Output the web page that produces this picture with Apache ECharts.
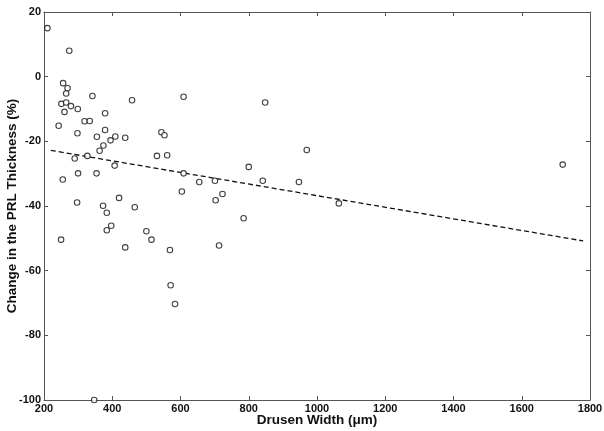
<!DOCTYPE html>
<html>
<head>
<meta charset="utf-8">
<script src="https://cdn.jsdelivr.net/npm/echarts@6/dist/echarts.min.js"></script>
<style>
  html, body { margin: 0; padding: 0; background: #fff; }
  #chart { width: 604px; height: 431px; }
</style>
</head>
<body>
<div id="chart"></div>
<script>
// drusen width (um) for each eye
const drusenWidth = [
  210, 274, 256, 269, 265, 342, 251, 265, 279, 299,
  260, 458, 609, 379, 319, 334, 243, 298, 355, 379,
  409, 438, 395, 374, 544, 553, 363, 290, 327, 531,
  561, 407, 300, 354, 609, 255, 655, 604, 297, 420,
  373, 466, 384, 384, 397, 250, 500, 515, 438, 569,
  701, 703, 723, 785, 800, 841, 970, 947, 1064, 713,
  848, 1720, 571, 584, 347
];
// change in PRL thickness (%)
const prlChange = [
  15, 8, -2, -3.6, -5.2, -6, -8.4, -8, -9.1, -10,
  -10.9, -7.3, -6.2, -11.3, -13.8, -13.7, -15.2, -17.5, -18.6, -16.5,
  -18.5, -18.9, -19.7, -21.3, -17.2, -18.1, -22.9, -25.3, -24.5, -24.5,
  -24.3, -27.5, -29.9, -29.9, -29.9, -31.8, -32.6, -35.5, -38.9, -37.5,
  -39.9, -40.4, -42.1, -47.5, -46.1, -50.4, -47.8, -50.4, -52.8, -53.6,
  -32.2, -38.2, -36.3, -43.8, -27.9, -32.2, -22.7, -32.6, -39.2, -52.2,
  -8, -27.2, -64.5, -70.3, -100
];
// fitted regression line end points
const fitX = [220, 1780];
const fitY = [-22.8, -50.8];

const xTicks = { min: 200, max: 1800, interval: 200 };
const yTicks = { min: -100, max: 20, interval: 20 };

const points = drusenWidth.map((x, i) => [x, prlChange[i]]);
const fitLine = fitX.map((x, i) => [x, fitY[i]]);

const myChart = echarts.init(document.getElementById('chart'));

const axisCol = '#555';
const fontFam = 'Liberation Sans, Arial, sans-serif';
const labelStyle = {
  color: '#111',
  fontFamily: fontFam,
  fontWeight: 'bold',
  fontSize: 11,
  formatter: (v) => String(v),
};
const nameStyle = {
  color: '#111',
  fontFamily: fontFam,
  fontWeight: 'bold',
  fontSize: 13.5,
};
const lineStyle = { show: true, onZero: false, lineStyle: { color: axisCol, width: 1 } };
const tickStyle = { show: true, inside: true, length: 4, lineStyle: { color: axisCol } };

const option = {
  animation: false,
  backgroundColor: '#fff',
  grid: { left: 44, right: 14, top: 12, bottom: 31, containLabel: false, outerBoundsMode: 'none' },
  xAxis: [
    {
      type: 'value',
      position: 'bottom',
      min: xTicks.min, max: xTicks.max, interval: xTicks.interval,
      name: 'Drusen Width (\u03bcm)',
      nameLocation: 'middle',
      nameGap: 13,
      nameMoveOverlap: false,
      nameTextStyle: nameStyle,
      axisLine: lineStyle,
      axisTick: tickStyle,
      axisLabel: Object.assign({ margin: 3 }, labelStyle),
      splitLine: { show: false },
    },
    {
      type: 'value',
      position: 'top',
      min: xTicks.min, max: xTicks.max, interval: xTicks.interval,
      axisLine: lineStyle,
      axisTick: tickStyle,
      axisLabel: { show: false },
      splitLine: { show: false },
    },
  ],
  yAxis: [
    {
      type: 'value',
      position: 'left',
      min: yTicks.min, max: yTicks.max, interval: yTicks.interval,
      name: 'Change in the PRL Thickness (%)',
      nameLocation: 'middle',
      nameGap: 25,
      nameMoveOverlap: false,
      nameTextStyle: nameStyle,
      axisLine: lineStyle,
      axisTick: tickStyle,
      axisLabel: Object.assign({ margin: 3 }, labelStyle),
      splitLine: { show: false },
    },
    {
      type: 'value',
      position: 'right',
      min: yTicks.min, max: yTicks.max, interval: yTicks.interval,
      axisLine: lineStyle,
      axisTick: tickStyle,
      axisLabel: { show: false },
      splitLine: { show: false },
    },
  ],
  series: [
    {
      type: 'line',
      data: fitLine,
      showSymbol: false,
      lineStyle: { color: '#111', width: 1.3, type: [5, 3] },
      z: 1,
    },
    {
      type: 'scatter',
      data: points,
      symbol: 'circle',
      symbolSize: 5.5,
      itemStyle: { color: '#fff', borderColor: '#111', borderWidth: 1.1 },
      z: 2,
    },
  ],
};

myChart.setOption(option);
</script>
</body>
</html>
